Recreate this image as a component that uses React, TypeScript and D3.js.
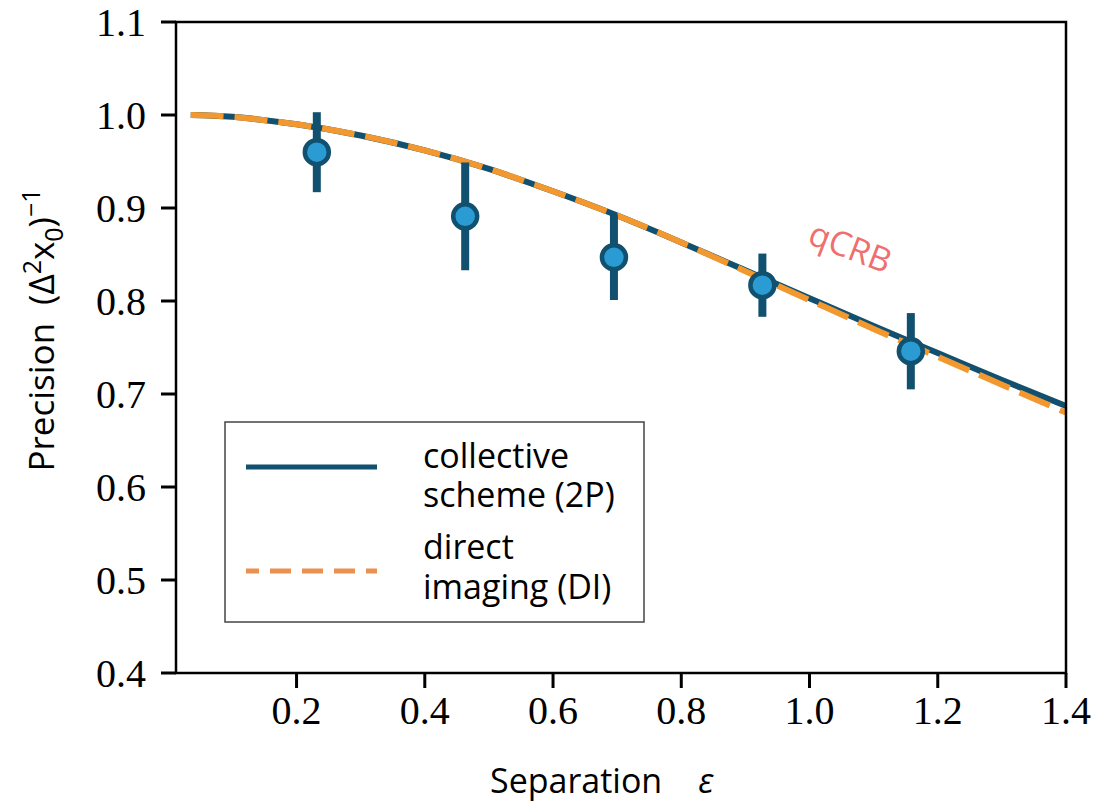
import React from "react";
import * as d3 from "d3";

const epsGrid = [0.035, 0.1, 0.2, 0.3, 0.4, 0.5, 0.6, 0.7, 0.8, 0.9, 1.0, 1.1, 1.2, 1.3, 1.4];
const collective2P = [1.0, 0.998, 0.99, 0.978, 0.962, 0.942, 0.918, 0.892, 0.863, 0.833, 0.803, 0.773, 0.744, 0.715, 0.687];
const directDI = [1.0, 0.998, 0.99, 0.978, 0.962, 0.942, 0.918, 0.892, 0.863, 0.832, 0.801, 0.77, 0.74, 0.71, 0.68];

const expEps = [0.2316, 0.463, 0.695, 0.9265, 1.158];
const expPrec = [0.96, 0.891, 0.847, 0.817, 0.746];
const expErr = [0.043, 0.058, 0.046, 0.034, 0.041];

const xTicks = [0.2, 0.4, 0.6, 0.8, 1.0, 1.2, 1.4];
const yTicks = [0.4, 0.5, 0.6, 0.7, 0.8, 0.9, 1.0, 1.1];

const DARK = "#11516f";
const LIGHT = "#2a9bd3";
const ORANGE = "#f2982f";
const ORANGE_LEG = "#ea9150";
const PINK = "#ef6f6f";

export default function App() {
  const W = 1100, H = 804;
  const x = d3.scaleLinear().domain([0.012, 1.4]).range([176, 1066]);
  const y = d3.scaleLinear().domain([0.4, 1.1]).range([673, 22]);
  const line = d3
    .line<number>()
    .x((_, i) => x(epsGrid[i]))
    .y((d) => y(d))
    .curve(d3.curveNatural);

  const serif = "'Liberation Serif', 'Times New Roman', serif";
  const sans = "'Open Sans', 'DejaVu Sans', sans-serif";

  return (
    <svg width={W} height={H} style={{ position: "absolute", left: 0, top: 0, background: "#fff" }}>
      <rect x={0} y={0} width={W} height={H} fill="#fff" />
      {/* curves */}
      <path d={line(collective2P) || ""} fill="none" stroke={DARK} strokeWidth={6} />
      <path d={line(directDI) || ""} fill="none" stroke={ORANGE} strokeWidth={6} strokeDasharray="33 11" />

      {/* error bars and points */}
      {expEps.map((e, i) => (
        <g key={i}>
          <line
            x1={x(e)}
            x2={x(e)}
            y1={y(expPrec[i] + expErr[i])}
            y2={y(expPrec[i] - expErr[i])}
            stroke={DARK}
            strokeWidth={8}
          />
          <circle cx={x(e)} cy={y(expPrec[i])} r={12} fill={LIGHT} stroke={DARK} strokeWidth={4.5} />
        </g>
      ))}

      {/* qCRB label */}
      <text
        x={850}
        y={259}
        transform="rotate(21 850 248)"
        textAnchor="middle"
        fontFamily={sans}
        fontSize={34}
        fill={PINK}
      >
        qCRB
      </text>

      {/* axes frame */}
      <rect x={176} y={22} width={890} height={651} fill="none" stroke="#000" strokeWidth={2.5} />

      {/* y ticks */}
      {yTicks.map((t) => (
        <g key={"y" + t}>
          <line x1={161} x2={176} y1={y(t)} y2={y(t)} stroke="#000" strokeWidth={3} />
          <text
            x={146}
            y={y(t)}
            dy="0.34em"
            textAnchor="end"
            fontFamily={serif}
            fontSize={40}
            fill="#000"
          >
            {t.toFixed(1)}
          </text>
        </g>
      ))}

      {/* x ticks */}
      {xTicks.map((t) => (
        <g key={"x" + t}>
          <line x1={x(t)} x2={x(t)} y1={673} y2={688} stroke="#000" strokeWidth={3} />
          <text x={x(t)} y={724} textAnchor="middle" fontFamily={serif} fontSize={40} fill="#000">
            {t.toFixed(1)}
          </text>
        </g>
      ))}

      {/* x label */}
      <text x={490} y={793} fontFamily={sans} fontSize={34} fill="#000">
        Separation
        <tspan dx={36} fontStyle="italic">ε</tspan>
      </text>

      {/* y label */}
      <text
        transform="translate(54,330) rotate(-90)"
        textAnchor="middle"
        fontFamily={sans}
        fontSize={35}
        fill="#000"
      >
        Precision
        <tspan dx={18}>(Δ</tspan>
        <tspan dy={-13} fontSize={25}>2</tspan>
        <tspan dy={13}>x</tspan>
        <tspan dy={9} fontSize={25}>0</tspan>
        <tspan dy={-9}>)</tspan>
        <tspan dy={-14} fontSize={25}>−1</tspan>
      </text>

      {/* legend */}
      <rect x={225} y={422} width={419} height={200} fill="#fff" stroke="#444" strokeWidth={1.5} />
      <line x1={246} x2={377} y1={467} y2={467} stroke={DARK} strokeWidth={5} />
      <line
        x1={246}
        x2={377}
        y1={571}
        y2={571}
        stroke={ORANGE_LEG}
        strokeWidth={5}
        strokeDasharray="21 11"
        strokeDashoffset={8}
      />
      <g fontFamily={sans} fontSize={34} fill="#000">
        <text x={423} y={468}>collective</text>
        <text x={423} y={507}>scheme (2P)</text>
        <text x={423} y={559}>direct</text>
        <text x={423} y={599}>imaging (DI)</text>
      </g>
    </svg>
  );
}
